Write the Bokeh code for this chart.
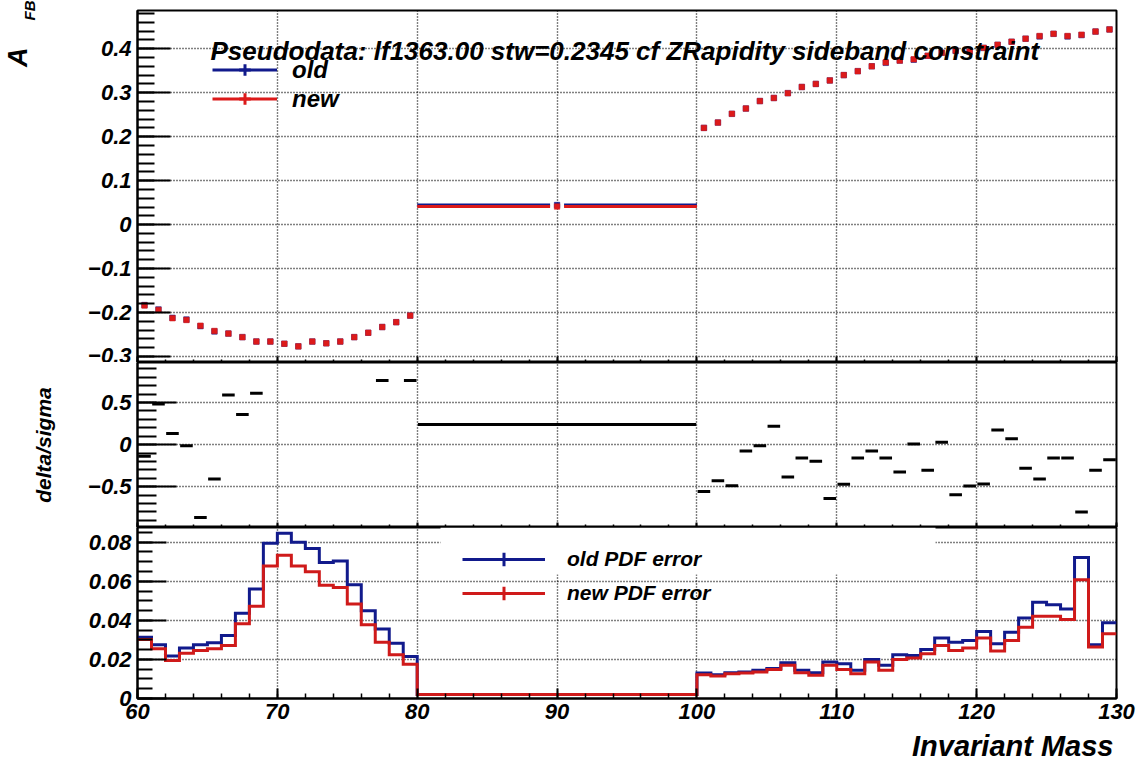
import math
import numpy as np
from bokeh.plotting import figure
from bokeh.models import (FixedTicker, Label, Legend, LegendItem, Range1d, Title,
                          BoxAnnotation, CustomLabelingPolicy)
from bokeh.layouts import column
from bokeh.embed import file_html
from bokeh.resources import INLINE

# ---------------- data ----------------
# bin edges: 1 GeV bins 60-80, one wide bin 80-100, 1 GeV bins 100-130
bin_edges = list(range(60, 81)) + list(range(100, 131))

afb_old = [-0.183, -0.193, -0.212, -0.216, -0.231, -0.243, -0.248, -0.256, -0.266, -0.266,
           -0.271, -0.277, -0.266, -0.270, -0.266, -0.256, -0.246, -0.233, -0.222, -0.207,
           0.0445,
           0.220, 0.232, 0.252, 0.264, 0.281, 0.288, 0.299, 0.313, 0.320, 0.328,
           0.340, 0.349, 0.360, 0.368, 0.373, 0.375, 0.384, 0.391, 0.395, 0.393,
           0.402, 0.409, 0.416, 0.423, 0.428, 0.434, 0.428, 0.431, 0.439, 0.444]
afb_new = [-0.184, -0.194, -0.213, -0.217, -0.230, -0.242, -0.248, -0.256, -0.266, -0.266,
           -0.271, -0.277, -0.266, -0.270, -0.266, -0.256, -0.246, -0.233, -0.222, -0.207,
           0.041,
           0.220, 0.232, 0.252, 0.264, 0.281, 0.288, 0.299, 0.313, 0.320, 0.328,
           0.340, 0.349, 0.360, 0.369, 0.373, 0.376, 0.384, 0.391, 0.396, 0.394,
           0.402, 0.409, 0.416, 0.423, 0.429, 0.434, 0.429, 0.432, 0.439, 0.444]

# delta/sigma (NaN: outside the displayed range)
delta_sigma = [-0.139, 0.484, 0.131, -0.012, -0.865, -0.409, 0.591, 0.357, 0.611, np.nan,
               np.nan, np.nan, np.nan, np.nan, np.nan, np.nan, np.nan, 0.762, np.nan, 0.762,
               0.238,
               -0.556, -0.429, -0.488, -0.075, -0.012, 0.218, -0.385, -0.159, -0.198, -0.639,
               -0.472, -0.159, -0.075, -0.159, -0.325, 0.008, -0.306, 0.028, -0.595, -0.492,
               -0.468, 0.175, 0.071, -0.282, -0.409, -0.159, -0.159, -0.802, -0.306, -0.179]

pdf_err_old = [0.0314, 0.0275, 0.0217, 0.0258, 0.0275, 0.0285, 0.0322, 0.0436, 0.0560, 0.0794,
               0.0845, 0.0800, 0.0767, 0.0696, 0.0704, 0.0582, 0.0449, 0.0356, 0.0283, 0.0215,
               0.0020,
               0.0131, 0.0122, 0.0132, 0.0136, 0.0144, 0.0153, 0.0183, 0.0144, 0.0132, 0.0187,
               0.0178, 0.0144, 0.0200, 0.0170, 0.0224, 0.0220, 0.0251, 0.0309, 0.0288, 0.0297,
               0.0343, 0.0280, 0.0339, 0.0412, 0.0492, 0.0480, 0.0458, 0.0721, 0.0275, 0.0387]
pdf_err_new = [0.0302, 0.0254, 0.0195, 0.0232, 0.0246, 0.0254, 0.0271, 0.0382, 0.0472, 0.0678,
               0.0733, 0.0678, 0.0648, 0.0580, 0.0568, 0.0483, 0.0377, 0.0288, 0.0224, 0.0175,
               0.0020,
               0.0122, 0.0115, 0.0127, 0.0131, 0.0136, 0.0148, 0.0170, 0.0132, 0.0119, 0.0170,
               0.0149, 0.0127, 0.0187, 0.0144, 0.0200, 0.0207, 0.0229, 0.0271, 0.0246, 0.0258,
               0.0310, 0.0243, 0.0297, 0.0365, 0.0421, 0.0421, 0.0404, 0.0607, 0.0263, 0.0331]

title_text = "Pseudodata: lf1363.00 stw=0.2345 cf ZRapidity sideband constraint"
series_labels = ["old", "new"]
err_labels = ["old PDF error", "new PDF error"]
x_title = "Invariant Mass"
ds_title = "delta/sigma"
afb_title_main = "A"
afb_title_sub = "FB"

x_ticks = [60, 70, 80, 90, 100, 110, 120, 130]
x_tick_labels = ["60", "70", "80", "90", "100", "110", "120", "130"]
afb_ticks = [-0.3, -0.2, -0.1, 0.0, 0.1, 0.2, 0.3, 0.4]
afb_tick_labels = ["\u22120.3", "\u22120.2", "\u22120.1", "0", "0.1", "0.2", "0.3", "0.4"]
ds_ticks = [-1.0, -0.5, 0.0, 0.5, 1.0]
ds_tick_labels = ["\u22121", "\u22120.5", "0", "0.5", "1"]
err_ticks = [0.0, 0.02, 0.04, 0.06, 0.08]
err_tick_labels = ["0", "0.02", "0.04", "0.06", "0.08"]

# ---------------- style ----------------
FONT = "Liberation Sans"
FSTYLE = "bold italic"
BLUE = "#111a8c"
RED = "#dc1a1a"
RED2 = "#cf1a1a"

edges = np.array(bin_edges, dtype=float)
lo = edges[:-1]
hi = edges[1:]
ctr = 0.5 * (lo + hi)
NAN1 = [np.nan]


def minor(step, a, b):
    n0 = math.ceil(a / step - 1e-9)
    n1 = math.floor(b / step + 1e-9)
    return [round(k * step, 6) for k in range(n0, n1 + 1)]


def make_fig(frame_h, yr, yt, ylab, ymin_step, btop, bbot, ytick_in, yminor_in, xtick_in, xminor_in, show_xlabels):
    p = figure(frame_width=979, frame_height=frame_h,
               x_range=Range1d(60, 130), y_range=Range1d(*yr),
               output_backend="svg", toolbar_location=None,
               min_border=0, min_border_left=137, min_border_right=21,
               min_border_top=btop, min_border_bottom=bbot,
               background_fill_color="white", border_fill_color="white")
    p.outline_line_color = "black"
    p.outline_line_width = 2
    p.outline_line_alpha = 1.0

    xt = FixedTicker(ticks=x_ticks, minor_ticks=minor(2, 60, 130))
    yt_ = FixedTicker(ticks=yt, minor_ticks=minor(ymin_step, yr[0], yr[1]))
    p.xaxis.ticker = xt
    p.yaxis.ticker = yt_
    p.xgrid.ticker = xt
    p.ygrid.ticker = yt_
    for g in (p.xgrid, p.ygrid):
        g.grid_line_color = "black"
        g.grid_line_dash = "1 2"
        g.grid_line_width = 1.4
        g.grid_line_alpha = 1.0

    ya = p.yaxis[0]
    ya.major_label_overrides = dict(zip(yt, ylab))
    ya.major_tick_in = ytick_in
    ya.major_tick_out = 0
    ya.minor_tick_in = yminor_in
    ya.minor_tick_out = 0
    ya.axis_line_width = 2
    ya.major_tick_line_width = 2
    ya.minor_tick_line_width = 2
    ya.major_label_standoff = 6
    ya.major_label_text_font = FONT
    ya.major_label_text_font_style = FSTYLE
    ya.major_label_text_font_size = "22px"
    ya.major_label_text_color = "black"

    xa = p.xaxis[0]
    xa.major_tick_in = xtick_in
    xa.major_tick_out = 0
    xa.minor_tick_in = xminor_in
    xa.minor_tick_out = 0
    xa.axis_line_width = 2
    xa.major_tick_line_width = 2
    xa.minor_tick_line_width = 1.5
    if show_xlabels:
        xa.major_label_overrides = dict(zip(x_ticks, x_tick_labels))
        xa.major_label_standoff = 5
        xa.major_label_text_font = FONT
        xa.major_label_text_font_style = FSTYLE
        xa.major_label_text_font_size = "22px"
        xa.major_label_text_color = "black"
    else:
        # ticks only: no labels on the upper panels
        xa.major_label_text_font_size = "0px"
        xa.major_label_standoff = 0
        xa.major_label_policy = CustomLabelingPolicy(code="return new Set()")
    return p


def axis_title(ax, text, size, standoff, align):
    ax.axis_label = text
    ax.axis_label_align = align
    ax.axis_label_standoff = standoff
    ax.axis_label_text_font = FONT
    ax.axis_label_text_font_style = FSTYLE
    ax.axis_label_text_font_size = size
    ax.axis_label_text_color = "black"


# ---------------- top panel: A_FB ----------------
p1 = make_fig(352, (-0.3137, 0.487), afb_ticks, afb_tick_labels, 0.02, 10, 0, 33, 17, 6, 3, False)
gap = 0.5
for vals, col in ((afb_old, BLUE), (afb_new, RED)):
    v = np.array(vals)
    p1.segment(x0=lo, y0=v, x1=ctr - gap, y1=v, line_color=col, line_width=3)
    p1.segment(x0=ctr + gap, y0=v, x1=hi, y1=v, line_color=col, line_width=3)
    p1.scatter(x=ctr, y=v, marker="square", size=5.5, fill_color=col, line_color=col, line_width=0.5)

leg_items = []
for lab, col in zip(series_labels, (BLUE, RED)):
    rl = p1.line(x=NAN1, y=NAN1, line_color=col, line_width=3)
    rc = p1.scatter(x=NAN1, y=NAN1, marker="cross", line_color=col, line_width=3)
    leg_items.append(LegendItem(label=lab, renderers=[rl, rc]))
leg1 = Legend(items=leg_items, location=(75, 249), glyph_width=65, glyph_height=29,
              label_height=29, spacing=0, padding=0, label_standoff=15,
              background_fill_alpha=0, border_line_alpha=0,
              label_text_font=FONT, label_text_font_style=FSTYLE, label_text_font_size="24px",
              label_text_color="black")
p1.add_layout(leg1)

p1.add_layout(Label(x=73, y=312, x_units="screen", y_units="screen", text=title_text,
                    text_font=FONT, text_font_style=FSTYLE, text_font_size="26px",
                    text_baseline="alphabetic", text_color="black"))
# subscript "FB" is the axis label (next to the tick labels), "A" a title just outside it
axis_title(p1.yaxis[0], afb_title_sub, "15px", 47, "end")
p1.add_layout(Title(text=afb_title_main, align="right", offset=37, standoff=-29,
                    vertical_align="bottom", text_font=FONT, text_font_style=FSTYLE,
                    text_font_size="27px", text_color="black"), "left")

# ---------------- middle panel: delta/sigma ----------------
p2 = make_fig(165, (-0.985, 0.976), ds_ticks, ds_tick_labels, 0.1, 0, 0, 39, 19, 5, 3, False)
ds = np.array(delta_sigma, dtype=float)
p2.segment(x0=lo + 0.05, y0=ds, x1=hi - 0.05, y1=ds, line_color="black", line_width=3)
axis_title(p2.yaxis[0], ds_title, "21px", 30, "center")

# ---------------- bottom panel: PDF errors ----------------
p3 = make_fig(171, (0.0, 0.0875), err_ticks, err_tick_labels, 0.005, 0, 0, 29, 15, 10, 5, True)
p3.add_layout(BoxAnnotation(left=303, right=798, bottom=124, top=171,
                            left_units="screen", right_units="screen",
                            bottom_units="screen", top_units="screen",
                            fill_color="white", fill_alpha=1.0, line_alpha=0, level="underlay"))
for vals, col in ((pdf_err_old, BLUE), (pdf_err_new, RED2)):
    yv = list(vals) + [vals[-1]]
    p3.step(x=edges, y=yv, mode="after", line_color=col, line_width=3, line_join="miter")

leg_items3 = []
for lab, col in zip(err_labels, (BLUE, RED2)):
    rl = p3.line(x=NAN1, y=NAN1, line_color=col, line_width=3)
    rc = p3.scatter(x=NAN1, y=NAN1, marker="cross", line_color=col, line_width=3)
    leg_items3.append(LegendItem(label=lab, renderers=[rl, rc]))
leg3 = Legend(items=leg_items3, location=(315, 78), glyph_width=83, glyph_height=34,
              label_height=34, spacing=0, padding=10, label_standoff=22,
              background_fill_alpha=0, border_line_alpha=0,
              label_text_font=FONT, label_text_font_style=FSTYLE, label_text_font_size="21px",
              label_text_color="black")
p3.add_layout(leg3)
p3.add_layout(Title(text=x_title, align="right", offset=3, standoff=12,
                    vertical_align="bottom", text_font=FONT, text_font_style=FSTYLE,
                    text_font_size="29px", text_color="black"), "below")

layout = column(p1, p2, p3, spacing=0)
open("out.html", "w").write(file_html(layout, INLINE))
